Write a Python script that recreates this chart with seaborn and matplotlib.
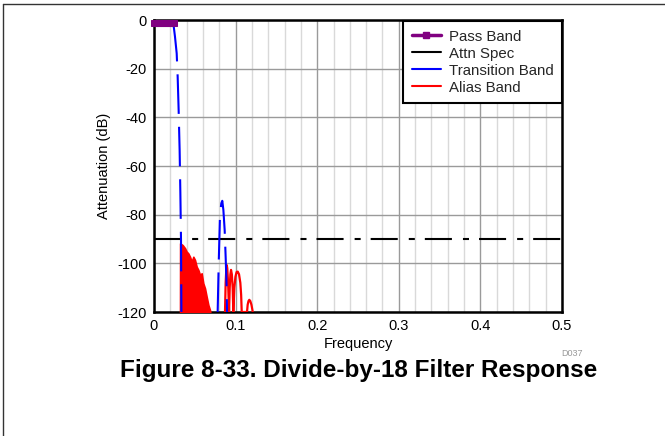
import numpy as np
import pandas as pd
import matplotlib
matplotlib.use('Agg')
import matplotlib.pyplot as plt
from matplotlib.lines import Line2D
import seaborn as sns

# pass band (flat, small droop)
pass_freq = [0.0, 0.0025, 0.005, 0.0075, 0.01, 0.0125, 0.015, 0.0175, 0.02, 0.0225, 0.025]
pass_db = [-1.3, -1.3, -1.3, -1.3, -1.3, -1.3, -1.3, -1.3, -1.3, -1.3, -1.3]

# attenuation spec
spec_freq = [0.0, 0.5]
spec_db = [-90, -90]

# transition band, main roll-off and the image lobe
trans1_freq = [0.0225, 0.0237, 0.0257, 0.0278, 0.029, 0.0302, 0.0314, 0.0323, 0.0331, 0.0336]
trans1_db = [-1.0, -1.4, -6.8, -13.7, -23.3, -37.0, -53.4, -71.0, -90.4, -120]
trans2_freq = [0.0780, 0.0793, 0.0809, 0.0825, 0.0837, 0.0850, 0.0866, 0.0878, 0.0890, 0.0895]
trans2_db = [-120, -100, -80, -75.3, -74.3, -78, -86.3, -97.3, -109.6, -120]

# alias band, dense part (envelope)
alias_freq = [0.0319, 0.0320, 0.0351, 0.038, 0.040, 0.042, 0.0441, 0.0462, 0.0482, 0.0502,
              0.0523, 0.0543, 0.0564, 0.0584, 0.0604, 0.0625, 0.0645, 0.0666, 0.0686, 0.0690]
alias_db = [-120, -91.8, -92.5, -93.8, -95.2, -95.9, -97.3, -99.3, -97.3, -98.6,
            -101.4, -102.7, -104.8, -104.1, -108.2, -110.3, -113.7, -117.1, -119.2, -120]

# alias band lobes past the image
lobe_freq = [0.0870, 0.0878, 0.0886, 0.0891, 0.0898, 0.0908, 0.0920,
             0.0928, 0.0936, 0.0944, 0.0954, 0.0964, 0.0972,
             0.0985, 0.0998, 0.1012, 0.1026, 0.1042, 0.1058, 0.1068, 0.1075,
             0.1140, 0.1148, 0.1158, 0.1168, 0.1180, 0.1194, 0.1205, 0.1210]
lobe_db = [-120, -108, -102.5, -100.7, -102, -108, -120,
           -110, -104.5, -102.7, -104.5, -110, -120,
           -110, -105.5, -103.6, -103.4, -104.5, -108, -113, -120,
           -120, -117, -115.5, -115, -115.5, -117, -119, -120]

x_ticks = [0, 0.1, 0.2, 0.3, 0.4, 0.5]
x_ticklabels = ['0', '0.1', '0.2', '0.3', '0.4', '0.5']
y_ticks = [0, -20, -40, -60, -80, -100, -120]

sns.set_theme(style='white')
plt.rcParams['font.family'] = ['Liberation Sans', 'DejaVu Sans']

fig = plt.figure(figsize=(6.65, 4.36), dpi=100)
ax = fig.add_axes([154 / 665, 1 - 312 / 436, 408 / 665, 292 / 436])

# grid
ax.set_xticks(np.arange(0, 0.5001, 0.02), minor=True)
ax.grid(which='minor', axis='x', color='#d9d9d9', linewidth=1)
ax.grid(which='major', axis='both', color='#9a9a9a', linewidth=1)
ax.set_axisbelow(True)

# alias band
ax.fill_between(alias_freq, alias_db, -120, color='red', linewidth=1.2, edgecolor='red', zorder=3)
sns.lineplot(x=lobe_freq, y=lobe_db, ax=ax, color='red', linewidth=1.6, sort=False,
             estimator=None, zorder=3)

# attn spec
sns.lineplot(x=spec_freq, y=spec_db, ax=ax, color='black', linewidth=1.5, sort=False,
             estimator=None, linestyle=(0, (13, 5.3, 2.9, 4.8)), zorder=4)

# transition band
sns.lineplot(x=trans1_freq, y=trans1_db, ax=ax, color='blue', linewidth=1.5, sort=False,
             estimator=None, linestyle=(0, (19, 6.2)), zorder=5)
sns.lineplot(x=trans2_freq, y=trans2_db, ax=ax, color='blue', linewidth=1.5, sort=False,
             estimator=None, linestyle=(0, (19, 6.2)), zorder=5)

# pass band
sns.lineplot(x=pass_freq, y=pass_db, ax=ax, color='purple', linewidth=2.5, sort=False,
             estimator=None, marker='s', markersize=5, markeredgecolor='purple', zorder=6,
             clip_on=False)

ax.set_xlim(0, 0.5)
ax.set_ylim(-120, 0)
ax.set_xticks(x_ticks)
ax.set_xticklabels(x_ticklabels)
ax.set_yticks(y_ticks)
ax.set_yticklabels([str(v) for v in y_ticks])
ax.tick_params(axis='both', which='both', length=0, labelsize=10.5, colors='black', pad=5)
ax.set_xlabel('Frequency', fontsize=10.5, labelpad=3, color='black')
ax.set_ylabel('Attenuation (dB)', fontsize=10.5, labelpad=5, color='black')
for s in ax.spines.values():
    s.set_color('black')
    s.set_linewidth(1.8)

handles = [
    Line2D([0], [0], color='purple', linewidth=2.5, marker='s', markersize=4,
           markevery=[0, -1], markerfacecolor='purple'),
    Line2D([0], [0], color='black', linewidth=1.5),
    Line2D([0], [0], color='blue', linewidth=1.5),
    Line2D([0], [0], color='red', linewidth=1.5),
]
leg = ax.legend(handles, ['Pass Band', 'Attn Spec', 'Transition Band', 'Alias Band'],
                loc='upper right', bbox_to_anchor=(1.0, 0.995), borderaxespad=0,
                fontsize=10.8, fancybox=False, framealpha=1, edgecolor='black',
                handlelength=1.95, handletextpad=0.55, labelspacing=0.2,
                borderpad=0.55)
leg.get_frame().set_linewidth(1.5)

fig.text(572 / 665, 1 - 353 / 436, 'D037', fontsize=6.5, color='#999999',
         ha='center', va='center')
fig.text(359 / 665, 1 - 371 / 436, 'Figure 8-33. Divide-by-18 Filter Response',
         fontsize=17.5, fontweight='bold', ha='center', va='center', color='black')

# page border (top and left)
fig.add_artist(Line2D([3 / 665, 1.0], [1 - 4.5 / 436, 1 - 4.5 / 436], color='#333333',
                      linewidth=1, transform=fig.transFigure))
fig.add_artist(Line2D([3 / 665, 3 / 665], [0, 1 - 4.5 / 436], color='#333333',
                      linewidth=1, transform=fig.transFigure))

fig.savefig('out.png', dpi=100)
